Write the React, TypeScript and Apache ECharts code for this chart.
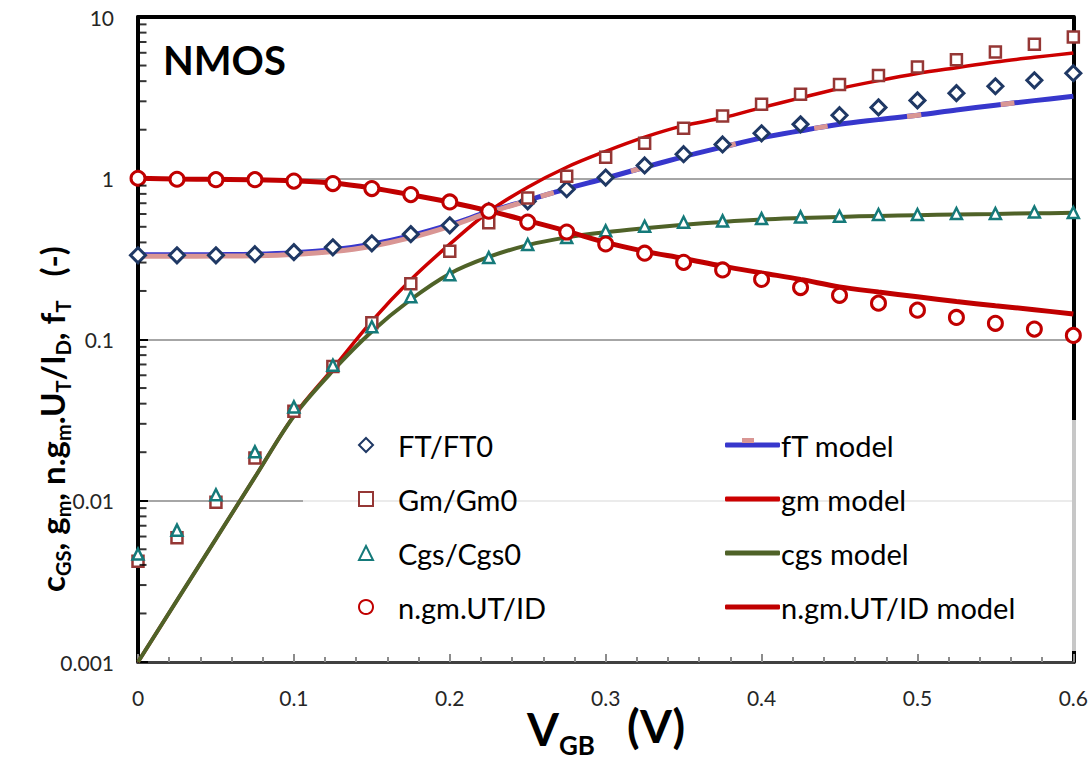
import React, { useEffect, useRef } from "react";
import * as echarts from "echarts";

const vgb = [0, 0.025, 0.05, 0.075, 0.1, 0.125, 0.15, 0.175, 0.2, 0.225, 0.25, 0.275, 0.3, 0.325, 0.35, 0.375, 0.4, 0.425, 0.45, 0.475, 0.5, 0.525, 0.55, 0.575, 0.6];

const ftMeas = [0.333, 0.333, 0.333, 0.338, 0.348, 0.373, 0.395, 0.45, 0.511, 0.625, 0.72, 0.855, 1.01, 1.2, 1.41, 1.62, 1.9, 2.16, 2.46, 2.75, 3.04, 3.37, 3.72, 4.05, 4.48];
const gmMeas = [0.00422, 0.0059, 0.0098, 0.0184, 0.0359, 0.068, 0.127, 0.222, 0.352, 0.53, 0.755, 1.03, 1.35, 1.65, 2.04, 2.43, 2.88, 3.32, 3.81, 4.33, 4.9, 5.44, 6.07, 6.77, 7.52];
const cgsMeas = [0.00467, 0.00657, 0.0109, 0.0201, 0.0382, 0.0693, 0.12, 0.184, 0.252, 0.322, 0.388, 0.429, 0.472, 0.504, 0.533, 0.544, 0.562, 0.576, 0.581, 0.596, 0.596, 0.604, 0.604, 0.618, 0.613];
const ngmMeas = [1.0, 0.986, 0.98, 0.98, 0.96, 0.927, 0.863, 0.792, 0.713, 0.625, 0.535, 0.464, 0.391, 0.343, 0.301, 0.27, 0.236, 0.21, 0.188, 0.168, 0.152, 0.137, 0.126, 0.116, 0.106];

const ftModel = [0.335, 0.335, 0.336, 0.338, 0.345, 0.36, 0.39, 0.44, 0.515, 0.62, 0.73, 0.86, 1.0, 1.17, 1.36, 1.56, 1.78, 1.97, 2.16, 2.31, 2.46, 2.65, 2.84, 3.03, 3.22];
const ftModelLow = [0.328, 0.328, 0.329, 0.331, 0.337, 0.351, 0.379, 0.428, 0.503, 0.612, 0.725];
const gmModel = [0.001, 0.00241, 0.0058, 0.014, 0.0337, 0.066, 0.13, 0.235, 0.39, 0.62, 0.88, 1.17, 1.47, 1.8, 2.12, 2.37, 2.74, 3.15, 3.6, 4.03, 4.46, 4.85, 5.26, 5.62, 5.98];
const cgsModel = [0.001, 0.00241, 0.0058, 0.014, 0.0335, 0.064, 0.112, 0.177, 0.256, 0.325, 0.385, 0.43, 0.463, 0.49, 0.515, 0.536, 0.554, 0.566, 0.576, 0.584, 0.59, 0.596, 0.601, 0.606, 0.61];
const ngmModel = [1.0, 0.99, 0.985, 0.98, 0.965, 0.935, 0.87, 0.79, 0.71, 0.628, 0.545, 0.47, 0.4, 0.352, 0.318, 0.285, 0.259, 0.236, 0.212, 0.197, 0.184, 0.172, 0.162, 0.153, 0.144];

const yMajorTicks = [0.001, 0.01, 0.1, 1, 10];
const minorMantissas = [2, 3, 4, 5, 6, 7, 8, 9];
const minorDecades = [0.001, 0.01, 0.1, 1];

const measNames = ["FT/FT0", "Gm/Gm0", "Cgs/Cgs0", "n.gm.UT/ID"];
const modelNames = ["fT model", "gm model", "cgs model", "n.gm.UT/ID model"];

const FONT = "Lato, 'Open Sans', sans-serif";

export default function App() {
  const ref = useRef<HTMLDivElement>(null);
  useEffect(() => {
    if (!ref.current) return;
    const chart = echarts.init(ref.current, null, { renderer: "svg" });
    const pair = (ys: number[]) => ys.map((y, i) => [vgb[i], y]);
    const minorTicks: number[][] = [];
    minorDecades.forEach((d) => minorMantissas.forEach((m) => minorTicks.push([0, +(m * d).toPrecision(3)])));

    const lineSeries = (name: string, data: number[], color: string, width: number, z = 2, extra: any = {}) => ({
      name,
      type: "line",
      data: pair(data),
      smooth: 0.35,
      symbol: "none",
      showSymbol: false,
      lineStyle: { color, width, ...extra },
      itemStyle: { color },
      z,
      silent: true,
    });
    const scatterSeries = (name: string, data: number[], symbol: string, size: number, color: string, bw: number) => ({
      name,
      type: "scatter",
      data: pair(data),
      symbol,
      symbolSize: size,
      itemStyle: { color: "#ffffff", borderColor: color, borderWidth: bw, opacity: 1 },
      z: 4,
      clip: false,
      silent: true,
    });

    chart.setOption({
      animation: false,
      backgroundColor: "#ffffff",
      grid: { left: 138, right: 17, top: 17, bottom: 113, containLabel: false },
      xAxis: [
        {
          type: "value",
          min: 0,
          max: 0.6,
          interval: 0.1,
          axisLine: { show: true, onZero: false, lineStyle: { color: "#404040", width: 3 } },
          axisTick: { show: true, inside: true, length: 8, lineStyle: { color: "#8c8c8c", width: 2 } },
          minorTick: { show: true, splitNumber: 5, length: 5, lineStyle: { color: "#8c8c8c", width: 2 } },
          splitLine: { show: false },
          axisLabel: { fontFamily: FONT, fontSize: 21, lineHeight: 18, color: "#262626", margin: 26 },
        },
        {
          type: "value",
          position: "top",
          min: 0,
          max: 1,
          axisLine: { show: true, onZero: false, lineStyle: { color: "#000", width: 4 } },
          axisTick: { show: false },
          axisLabel: { show: false },
          splitLine: { show: false },
        },
      ],
      yAxis: [
        {
          type: "log",
          logBase: 10,
          min: 0.001,
          max: 10,
          axisLine: { show: true, onZero: false, lineStyle: { color: "#000", width: 4 } },
          axisTick: { show: true, inside: true, length: 10, lineStyle: { color: "#000", width: 2 } },
          splitLine: { show: true, lineStyle: { color: "#a6a6a6", width: 2 } },
          axisLabel: {
            fontFamily: FONT,
            fontSize: 21,
            color: "#262626",
            margin: 24,
            formatter: (v: number) => (yMajorTicks.includes(+v.toPrecision(3)) ? String(+v.toPrecision(3)) : ""),
          },
        },
        {
          type: "value",
          position: "right",
          min: 0,
          max: 1,
          axisLine: { show: true, onZero: false, lineStyle: { color: "#000", width: 4 } },
          axisTick: { show: false },
          axisLabel: { show: false },
          splitLine: { show: false },
        },
      ],
      legend: [
        {
          data: measNames,
          orient: "vertical",
          left: 353,
          top: 425,
          itemWidth: 14,
          itemHeight: 14,
          itemGap: 24,
          selectedMode: false,
          textStyle: { fontFamily: FONT, fontSize: 29, color: "#000", lineHeight: 30, padding: [0, 0, 0, 20] },
          z: 10,
        },
        {
          data: modelNames.map((n) => ({ name: n, icon: "roundRect" })),
          orient: "vertical",
          left: 720,
          top: 425,
          itemWidth: 55,
          itemHeight: 5,
          itemGap: 24,
          selectedMode: false,
          textStyle: { fontFamily: FONT, fontSize: 29, color: "#000", lineHeight: 30, padding: [0, 0, 0, -4] },
          z: 10,
        },
      ],
      graphic: [
        {
          type: "rect",
          shape: { x: 303, y: 420, width: 776, height: 231 },
          style: { fill: "rgba(255,255,255,0.78)" },
          z: 3,
          silent: true,
        },
        {
          type: "rect",
          shape: { x: 742, y: 438, width: 12, height: 5 },
          style: { fill: "#d99694" },
          z: 20,
          silent: true,
        },
        {
          type: "text",
          left: 163,
          top: 40,
          style: { text: "NMOS", fontFamily: FONT, fontWeight: "bold", fontSize: 40, fill: "#000" },
          z: 10,
        },
        {
          type: "text",
          x: 527,
          y: 728,
          style: {
            text: "{m|V}{s|GB}",
            align: "left",
            verticalAlign: "middle",
            rich: {
              m: { fontFamily: FONT, fontWeight: "bold", fontSize: 46, lineHeight: 46, verticalAlign: "top", fill: "#000" },
              s: { fontFamily: FONT, fontWeight: "bold", fontSize: 26, lineHeight: 24, verticalAlign: "top", padding: [27, 0, 0, 0], fill: "#000" },
            },
          },
          z: 10,
        },
        {
          type: "text",
          x: 627,
          y: 725,
          style: {
            text: "(V)",
            align: "left",
            verticalAlign: "middle",
            fontFamily: FONT,
            fontWeight: "bold",
            fontSize: 46,
            fill: "#000",
          },
          z: 10,
        },
        {
          type: "text",
          x: 52,
          y: 419,
          rotation: Math.PI / 2,
          style: {
            text: "{m|c}{s|GS}{m|, g}{s|m}{m|, n.g}{s|m}{m|.U}{s|T}{m|/I}{s|D}{m|, f}{s|T}{m|   (-)}",
            align: "center",
            verticalAlign: "middle",
            rich: {
              m: { fontFamily: FONT, fontWeight: "bold", fontSize: 33, lineHeight: 33, verticalAlign: "top", fill: "#000" },
              s: { fontFamily: FONT, fontWeight: "bold", fontSize: 20, lineHeight: 20, verticalAlign: "top", padding: [17, 0, 0, 0], fill: "#000" },
            },
          },
          z: 10,
        },
      ],
      series: [
        {
          name: "yMinor",
          type: "scatter",
          data: minorTicks,
          symbol: "rect",
          symbolSize: [7, 2],
          symbolOffset: [5, 0],
          itemStyle: { color: "#000" },
          clip: false,
          silent: true,
          z: 5,
        },
        lineSeries("gm model", gmModel, "#cc0000", 3.5, 2),
        lineSeries("cgs model", cgsModel, "#4f6228", 4, 2),
        lineSeries("fT model", ftModel, "#3737cc", 5, 2),
        {
          name: "fT pink low",
          type: "line",
          data: pair(ftModelLow),
          smooth: 0.35,
          symbol: "none",
          lineStyle: { color: "#d99694", width: 5 },
          z: 2,
          silent: true,
        },
        {
          name: "fT pink dash",
          type: "line",
          data: pair(ftModel).slice(9),
          smooth: 0.35,
          symbol: "none",
          lineStyle: { color: "#d99694", width: 5, type: [14, 80], dashOffset: 40 },
          z: 2,
          silent: true,
        },
        lineSeries("n.gm.UT/ID model", ngmModel, "#c00000", 5, 2),
        scatterSeries("FT/FT0", ftMeas, "diamond", 15, "#1f3864", 3),
        scatterSeries("Gm/Gm0", gmMeas, "rect", 11, "#953735", 2.5),
        scatterSeries("Cgs/Cgs0", cgsMeas, "triangle", 11, "#157a7a", 2.5),
        scatterSeries("n.gm.UT/ID", ngmMeas, "circle", 14, "#c00000", 3),
      ],
    });
    return () => chart.dispose();
  }, []);
  return <div ref={ref} style={{ width: 1091, height: 775, position: "absolute", left: 0, top: 0 }} />;
}
